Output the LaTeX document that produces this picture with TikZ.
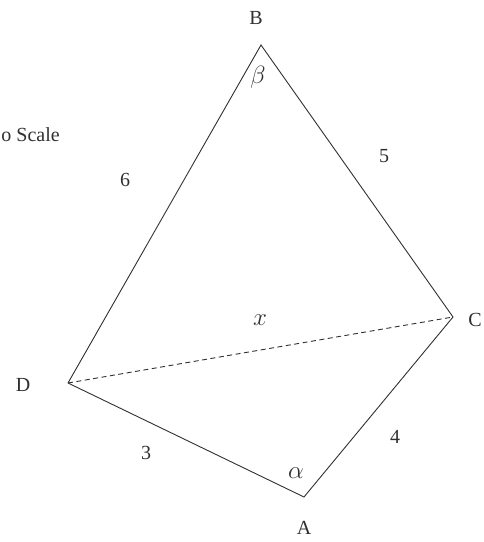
\RequirePackage{fix-cm}
\documentclass[tikz,border=0pt]{standalone}
\usepackage{fontspec}
\setmainfont{Liberation Serif}
\usetikzlibrary{positioning}
\definecolor{ink}{HTML}{303030}

\begin{document}
\begin{tikzpicture}[x=1pt, y=-1pt,
    side/.style={draw=ink, line width=0.9pt},
    hidden/.style={side, dash pattern=on 5pt off 3.5pt},
    lbl/.style={text=ink, font=\fontsize{20}{24}\selectfont, inner sep=0pt},
    sym/.style={lbl, font=\fontsize{25}{30}\selectfont}
  ]
    \useasboundingbox (0,0) rectangle (484,542);

    % corners of the quadrilateral
    \coordinate (B) at (261,45);
    \coordinate (C) at (453,317);
    \coordinate (D) at (68,383);
    \coordinate (A) at (304,497);

    \draw[side] (D) -- (B) -- (C) -- (A) -- (D);
    \draw[hidden] (D) -- (C);

    % vertex names
    \node[lbl] (nB) at (256,18)  {B};
    \node[lbl] (nC) at (475,320) {C};
    \node[lbl] (nD) at (23,385)  {D};
    \node[lbl] (nA) at (304,528) {A};

    % sides and angles
    \node[lbl] (sBD) at (125,180) {6};
    \node[lbl] (sBC) at (384,156) {5};
    \node[lbl] (sDA) at (146,453) {3};
    \node[lbl] (sCA) at (395,437) {4};
    \node[sym] (sDC) at (260,320) {$x$};
    \node[sym] (aB)  at (258,77)  {$\beta$};
    \node[sym] (aA)  at (296,473) {$\alpha$};

    \node[lbl, anchor=east] (note) at (60,135) {o Scale};
  \end{tikzpicture}
\end{document}
